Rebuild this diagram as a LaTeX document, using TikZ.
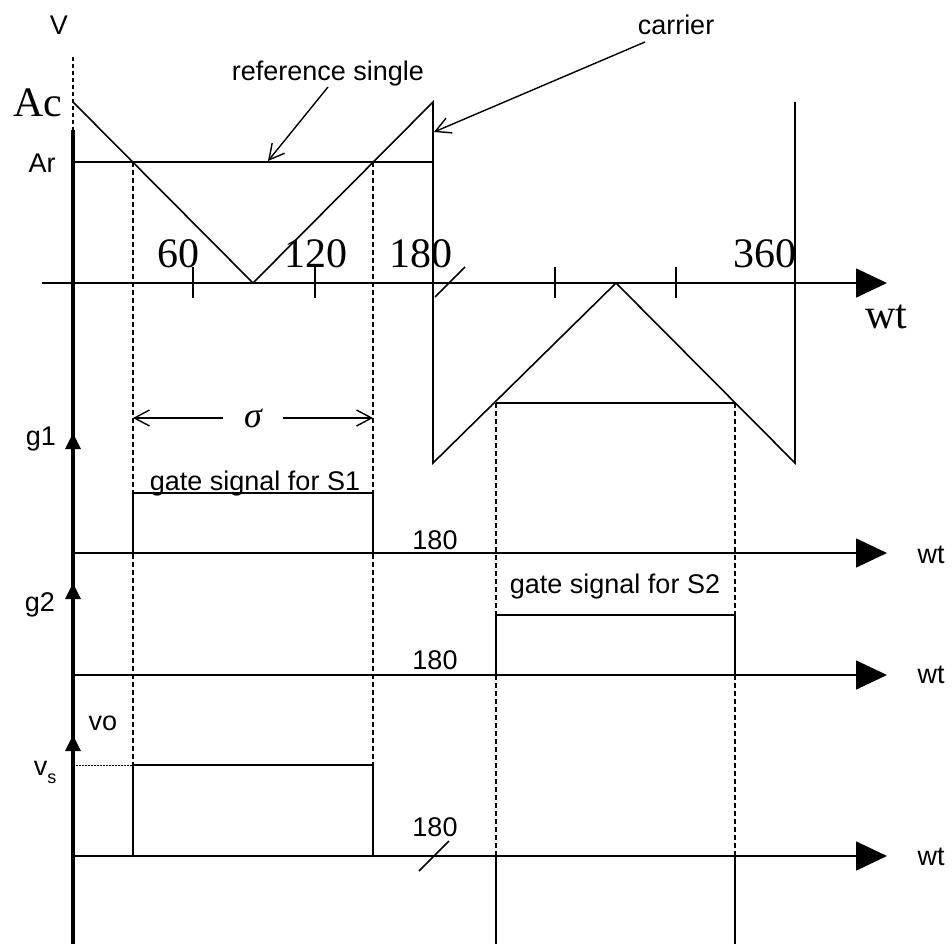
\documentclass[tikz,border=0pt]{standalone}
\usepackage{fontspec}
\setmainfont{Liberation Serif}
\setsansfont{Liberation Sans}
\usetikzlibrary{arrows.meta}
\begin{document}
\begin{tikzpicture}[x=1pt,y=-1pt,
  sanslbl/.style={font=\fontsize{27}{31}\selectfont\sffamily, inner sep=0pt, anchor=base},
  seriflbl/.style={font=\fontsize{42}{48}\selectfont, inner sep=0pt, anchor=base},
  wave/.style={line width=1.6pt},
  guide/.style={line width=1.3pt, dash pattern=on 5pt off 3pt},
  bigarrow/.style={line width=1.6pt, -{Triangle[length=31pt,width=29pt]}},
  callout/.style={line width=1.4pt, -{Straight Barb[length=15pt,width=16pt]}},
  upmark/.style={fill=black}]
\useasboundingbox (0,0) rectangle (952,944);

% coordinates
\coordinate (o0) at (73,283);
\coordinate (axend0) at (887,283);
\coordinate (axstart0) at (42,283);
\coordinate (o1) at (73,553);
\coordinate (axend1) at (887,553);
\coordinate (o2) at (73,675);
\coordinate (axend2) at (887,675);
\coordinate (o3) at (73,856);
\coordinate (axend3) at (887,856);

% vertical axis
\draw[line width=1.3pt, dash pattern=on 4pt off 3pt] (73,57) -- (73,130);
\draw[line width=4pt] (73,130) -- (73,944);
\fill[upmark] (73,433) -- (81,449) -- (65,449) -- cycle;
\fill[upmark] (73,583) -- (81,599) -- (65,599) -- cycle;
\fill[upmark] (73,735) -- (81,751) -- (65,751) -- cycle;

% guides
\draw[guide] (133,162) -- (133,765);
\draw[guide] (373,162) -- (373,765);
\draw[guide] (496,403) -- (496,856);
\draw[guide] (735,403) -- (735,856);
\draw[line width=1pt, dash pattern=on 1.5pt off 1.5pt] (73,765) -- (133,765);

% carrier and reference
\draw[wave] (73,102) -- (253,283) -- (433,102) -- (433,463) -- (616,283) -- (795,463) -- (795,102);
\draw[wave] (73,162) -- (433,162);
\draw[wave] (496,403) -- (735,403);

% main axis
\draw[bigarrow] (axstart0) -- (axend0);
\foreach \xx in {193,315,555,676} \draw[wave] (\xx,267) -- (\xx,298);
\draw[wave] (435,297) -- (465,267);

% pulses
\draw[wave] (133,553) -- (133,493) -- (373,493) -- (373,553);
\draw[wave] (496,675) -- (496,615) -- (735,615) -- (735,675);
\draw[wave] (133,856) -- (133,765) -- (373,765) -- (373,856);
\draw[wave] (496,856) -- (496,944);
\draw[wave] (735,856) -- (735,944);

% axes
\draw[bigarrow] (o1) -- (axend1);
\draw[bigarrow] (o2) -- (axend2);
\draw[bigarrow] (o3) -- (axend3);
\draw[wave] (419,871) -- (449,841);

% sigma
\node[font=\fontsize{36}{40}\selectfont\itshape, inner sep=0pt, anchor=base] (sig) at (253,427) {σ};
\coordinate (sl) at (133,418);
\coordinate (sr) at (373,418);
\draw[callout] (223,418) -- (sl);
\draw[callout] (283,418) -- (sr);

% labels
\node[sanslbl] (lV) at (59,35) {V};
\node[seriflbl] (lAc) at (38,117) {Ac};
\node[sanslbl] (lAr) at (42,172) {Ar};
\node[seriflbl] (l60) at (178,267) {60};
\node[seriflbl] (l120) at (316,267) {120};
\node[seriflbl] (l180) at (421,267) {180};
\node[seriflbl] (l360) at (765,267) {360};
\node[seriflbl] (lwt0) at (886,328) {wt};
\node[sanslbl] (lref) at (328,81) {reference single};
\node[sanslbl] (lcar) at (676,35) {carrier};
\coordinate (refpt) at (268,161);
\coordinate (carpt) at (434,132);
\draw[callout] (328,87) -- (refpt);
\draw[callout] (645,42) -- (carpt);

\node[sanslbl] (lg1) at (41,445) {g1};
\node[sanslbl] (lgs1) at (255,490) {gate signal for S1};
\node[sanslbl] (l1801) at (435,549) {180};
\node[sanslbl, anchor=center] (lwt1) at (931,555) {wt};
\node[sanslbl] (lg2) at (40,611) {g2};
\node[sanslbl] (lgs2) at (615,593) {gate signal for S2};
\node[sanslbl] (l1802) at (435,669) {180};
\node[sanslbl, anchor=center] (lwt2) at (931,675) {wt};
\node[sanslbl] (lvo) at (103,730) {vo};
\node[sanslbl] (lvs) at (45,775) {v\raisebox{-8pt}{\fontsize{18}{20}\selectfont s}};
\node[sanslbl] (l1803) at (435,836) {180};
\node[sanslbl, anchor=center] (lwt3) at (931,857) {wt};
\end{tikzpicture}
\end{document}
